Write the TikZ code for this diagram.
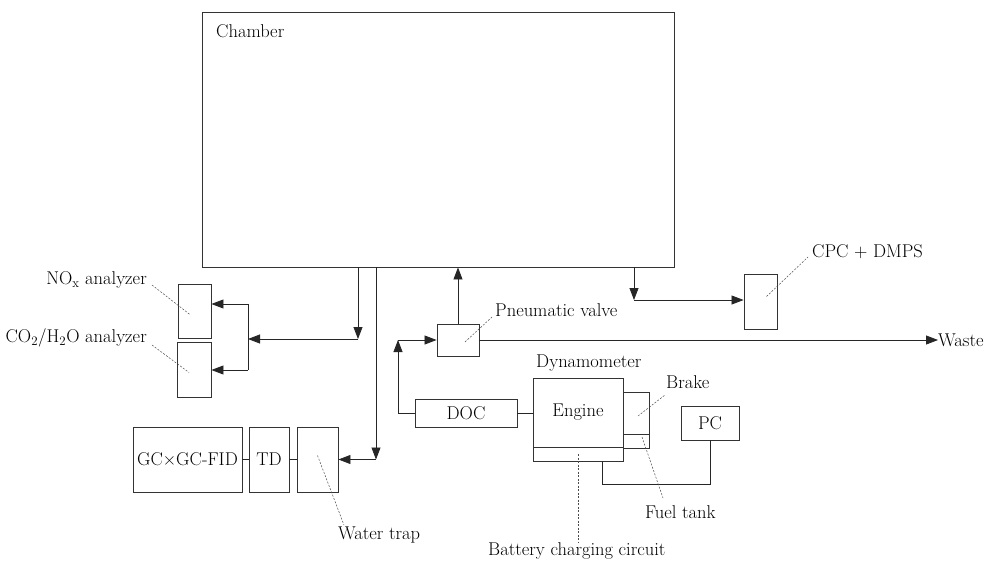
\documentclass[tikz,border=0pt]{standalone}
\usepackage{fontspec}
\usetikzlibrary{arrows.meta}

\begin{document}
\begin{tikzpicture}[
    x=1pt, y=-1pt,
    font=\fontsize{18.5}{20}\selectfont,
    box/.style={draw=black!80, line width=0.9pt, inner sep=0pt},
    pipe/.style={black!85, line width=0.8pt},
    flow/.style={pipe, -{Triangle[length=12pt,width=9pt]}},
    leader/.style={black!70, line width=0.5pt, dash pattern=on 2pt off 1.5pt},
    lbl/.style={inner sep=0pt}
]
\useasboundingbox (0,0) rectangle (985,560);

% ---------- chamber ----------
\node[box, minimum width=472, minimum height=255] (chamber) at (438,139.5) {};
\node[lbl, anchor=west] (chambertxt) at (216,31) {Chamber};

% ---------- gas analyzers ----------
\node[box, minimum width=33, minimum height=54] (nox) at (194.5,311) {};
\node[box, minimum width=34, minimum height=55] (cotwo) at (194,369.5) {};
\node[lbl, anchor=east] (noxtxt) at (147,280) {NO\textsubscript{x} analyzer};
\node[lbl, anchor=east] (cotwotxt) at (147,338) {CO\textsubscript{2}/H\textsubscript{2}O analyzer};
\draw[leader] ([xshift=5pt,yshift=-5pt]noxtxt.east) -- ([xshift=-4pt,yshift=-4pt]nox.center);
\draw[leader] ([xshift=5pt,yshift=-7pt]cotwotxt.east) -- ([xshift=-5pt,yshift=-3pt]cotwo.center);

\coordinate (tapa) at (358,339);
\coordinate (bra) at (248,304);
\coordinate (brb) at (248,370);
\draw[flow] (chamber.south -| tapa) -- (tapa);
\draw[flow] (tapa) -- (tapa -| bra);
\draw[pipe] (bra) -- (brb);
\draw[flow] (bra) -- (bra -| nox.east);
\draw[flow] (brb) -- (brb -| cotwo.east);

% ---------- GC line ----------
\node[box, minimum width=109, minimum height=65] (gc) at (187.5,459.5) {GC×GC-FID};
\node[box, minimum width=40, minimum height=65] (td) at (269,459.5) {TD};
\node[box, minimum width=41, minimum height=65] (trap) at (317.5,459.5) {};
\draw[pipe] (gc) -- (td);
\draw[pipe] (td) -- (trap);
\node[lbl, anchor=west] (traptxt) at (338,535) {Water trap};
\draw[leader] ([yshift=4pt]trap.center) -- ([xshift=6pt,yshift=10pt]traptxt.west);

\coordinate (tapb) at (376,459.5);
\draw[flow] (chamber.south -| tapb) -- (tapb);
\draw[flow] (tapb) -- (trap.east);

% ---------- exhaust path ----------
\node[box, minimum width=42, minimum height=32] (valve) at (458,340) {};
\node[box, minimum width=102, minimum height=28] (doc) at (466,413) {DOC};
\node[lbl, anchor=west] (valvetxt) at (495,310) {Pneumatic valve};
\node[lbl, anchor=west] (waste) at (938,340) {Waste};
\draw[leader] ([xshift=7pt,yshift=-2pt]valve.center) -- ([xshift=-3pt,yshift=-7pt]valvetxt.west);

\coordinate (tapc) at (398,340);
\draw[flow] (valve.north) -- (valve.north |- chamber.south);
\draw[flow] (doc.west) -- (doc.west -| tapc) -- (tapc);
\draw[flow] (tapc) -- (valve.west);
\draw[flow] (valve.east) -- (waste.west);

% ---------- particle sizing ----------
\node[box, minimum width=33, minimum height=55] (cpc) at (760.5,301.5) {};
\node[lbl, anchor=west] (cpctxt) at (812,252) {CPC + DMPS};
\draw[leader] ([xshift=6pt,yshift=5pt]cpc.center) -- ([xshift=-4pt,yshift=-5pt]cpctxt.west);

\coordinate (tapd) at (634,300);
\draw[flow] (chamber.south -| tapd) -- (tapd);
\draw[flow] (tapd) -- (tapd -| cpc.west);

% ---------- engine and dynamometer ----------
\node[box, minimum width=90, minimum height=69] (engine) at (578,412.5) {Engine};
\node[box, minimum width=90, minimum height=14] (battery) at (578,454) {};
\node[box, minimum width=26, minimum height=42] (brake) at (636,413) {};
\node[box, minimum width=26, minimum height=14] (fuel) at (636,441) {};
\node[box, minimum width=58, minimum height=34] (pc) at (710,423) {PC};
\draw[pipe] (doc.east) -- (doc.east -| engine.west);

\coordinate (pclink) at (602,484);
\draw[pipe] (pc.south) |- (pclink) -- (pclink |- battery.south);

\node[lbl, anchor=west] (dynotxt) at (536,363) {Dynamometer};
\node[lbl, anchor=west] (braketxt) at (666,382) {Brake};
\node[lbl, anchor=west] (fueltxt) at (645,512) {Fuel tank};
\node[lbl, anchor=west] (batttxt) at (488,551) {Battery charging circuit};
\draw[leader] ([xshift=2pt,yshift=-3pt]brake.center) -- ([xshift=-1pt,yshift=-13pt]braketxt.west);
\draw[leader] ([xshift=6pt,yshift=4pt]fuel.center) -- ([xshift=18pt,yshift=14pt]fueltxt.west);
\draw[leader] (battery.center) -- ([xshift=90pt,yshift=8pt]batttxt.west);

\end{tikzpicture}
\end{document}
